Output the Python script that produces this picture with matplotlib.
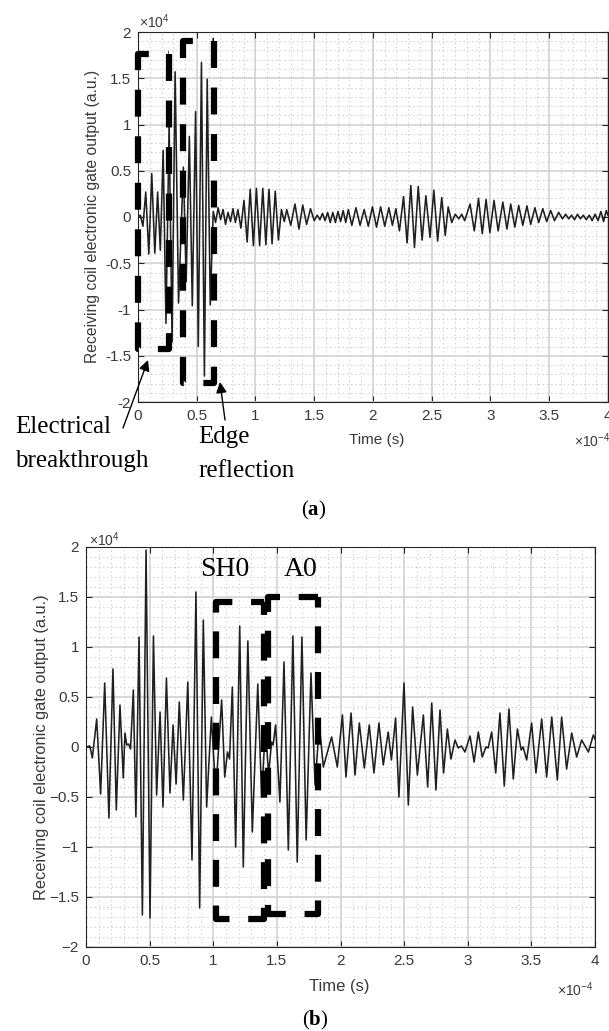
import matplotlib
matplotlib.use("Agg")
import matplotlib.pyplot as plt
from matplotlib.ticker import MultipleLocator, FuncFormatter

plt.rcParams['font.family'] = ['Liberation Sans', 'DejaVu Sans']
plt.rcParams['mathtext.fontset'] = 'custom'
plt.rcParams['mathtext.rm'] = 'Liberation Serif'
plt.rcParams['mathtext.bf'] = 'Liberation Serif:bold'
plt.rcParams['mathtext.sf'] = 'Liberation Sans'
plt.rcParams['lines.scale_dashes'] = False

# (a) extrema of the received signal, time in 1e-4 s, amplitude in 1e4 a.u.
time_a = [0.000, 0.020, 0.042, 0.066, 0.092, 0.117, 0.143, 0.167, 0.190, 0.214,
          0.238, 0.265, 0.290, 0.316, 0.345, 0.386, 0.410, 0.437, 0.462, 0.490,
          0.513, 0.540, 0.565, 0.589, 0.615, 0.640, 0.660, 0.682, 0.703, 0.724,
          0.745, 0.766, 0.787, 0.808, 0.829, 0.850, 0.876, 0.902, 0.929, 0.955,
          0.982, 1.008, 1.035, 1.062, 1.088, 1.115, 1.141, 1.168, 1.195, 1.221,
          1.245, 1.266, 1.300, 1.336, 1.370, 1.402, 1.435, 1.468, 1.500, 1.525,
          1.548, 1.570, 1.592, 1.614, 1.636, 1.658, 1.680, 1.702, 1.724, 1.746,
          1.768, 1.790, 1.820, 1.855, 1.890, 1.925, 1.960, 1.995, 2.030, 2.065,
          2.100, 2.135, 2.165, 2.195, 2.225, 2.260, 2.290, 2.322, 2.353, 2.385,
          2.418, 2.450, 2.485, 2.518, 2.550, 2.585, 2.615, 2.640, 2.670, 2.700,
          2.730, 2.755, 2.780, 2.826, 2.862, 2.898, 2.930, 2.962, 2.995, 3.030,
          3.065, 3.105, 3.140, 3.172, 3.207, 3.240, 3.275, 3.310, 3.342, 3.378,
          3.410, 3.445, 3.478, 3.512, 3.545, 3.580, 3.612, 3.640, 3.665, 3.690,
          3.715, 3.740, 3.765, 3.790, 3.815, 3.840, 3.865, 3.890, 3.915, 3.940,
          3.962, 3.985, 4.000]
amp_a = [0.00, 0.02, -0.10, 0.27, -0.40, 0.47, -0.39, 0.27, -0.36, 0.72,
         -1.15, 1.00, -1.35, 1.57, -0.93, 0.54, -0.70, 0.87, -0.96, 1.14,
         -1.40, 1.67, -1.72, 1.49, -0.95, 0.06, -0.06, 0.10, -0.03, 0.08,
         -0.08, 0.05, -0.05, 0.09, -0.06, 0.08, -0.12, 0.18, -0.27, 0.30,
         -0.31, 0.31, -0.31, 0.31, -0.30, 0.30, -0.29, 0.28, -0.25, 0.08,
         -0.05, 0.08, -0.09, 0.14, -0.13, 0.13, -0.08, 0.09, -0.04, 0.02,
         -0.03, 0.04, -0.04, 0.05, -0.06, 0.05, -0.06, 0.06, -0.05, 0.07,
         -0.06, 0.08, -0.09, 0.10, -0.09, 0.08, -0.10, 0.11, -0.11, 0.11,
         -0.10, 0.10, -0.09, 0.09, -0.15, 0.22, -0.28, 0.34, -0.33, 0.33,
         -0.25, 0.23, -0.22, 0.29, -0.26, 0.21, -0.20, 0.11, -0.06, 0.03,
         -0.02, 0.03, -0.04, 0.14, -0.15, 0.20, -0.18, 0.19, -0.17, 0.18,
         -0.15, 0.16, -0.13, 0.14, -0.11, 0.125, -0.09, 0.12, -0.08, 0.10,
         -0.06, 0.09, -0.05, 0.07, -0.04, 0.05, -0.02, 0.03, -0.02, 0.02,
         -0.03, 0.03, -0.02, 0.02, -0.03, 0.02, -0.04, 0.03, -0.04, 0.06,
         -0.05, 0.07, 0.02]

# (b) extrema of the received signal
time_b = [0.000, 0.030, 0.050, 0.084, 0.115, 0.147, 0.180, 0.212, 0.238, 0.267,
          0.293, 0.306, 0.320, 0.335, 0.350, 0.372, 0.392, 0.417, 0.443, 0.472,
          0.503, 0.530, 0.555, 0.582, 0.605, 0.632, 0.660, 0.684, 0.708, 0.733,
          0.765, 0.800, 0.833, 0.864, 0.893, 0.922, 0.948, 0.985, 1.020, 1.066,
          1.090, 1.112, 1.128, 1.150, 1.176, 1.208, 1.236, 1.272, 1.307, 1.350,
          1.380, 1.410, 1.435, 1.458, 1.470, 1.490, 1.524, 1.556, 1.590, 1.626,
          1.660, 1.697, 1.730, 1.768, 1.800, 1.834, 1.865, 1.930, 1.975, 2.015,
          2.043, 2.083, 2.114, 2.148, 2.187, 2.226, 2.263, 2.302, 2.336, 2.375,
          2.400, 2.433, 2.459, 2.499, 2.533, 2.567, 2.604, 2.651, 2.685, 2.717,
          2.750, 2.782, 2.810, 2.840, 2.868, 2.900, 2.925, 2.950, 2.978, 3.018,
          3.050, 3.083, 3.114, 3.143, 3.160, 3.188, 3.220, 3.253, 3.287, 3.324,
          3.358, 3.390, 3.420, 3.435, 3.463, 3.502, 3.536, 3.581, 3.620, 3.660,
          3.704, 3.738, 3.777, 3.817, 3.856, 3.895, 3.948, 3.987, 4.000]
amp_b = [0.00, 0.01, -0.11, 0.28, -0.47, 0.64, -0.71, 0.78, -0.63, 0.42,
         -0.31, 0.14, 0.02, 0.03, -0.02, 0.57, -0.70, 1.10, -1.68, 1.97,
         -1.71, 1.11, -0.48, 0.35, -0.60, 0.69, -0.46, 0.22, -0.37, 0.45,
         -0.53, 0.65, -1.13, 1.55, -1.61, 1.27, -0.60, 0.30, -0.45, 0.47,
         -0.30, -0.05, -0.12, 0.60, -1.00, 1.21, -1.20, 1.06, -0.85, 0.63,
         -0.50, 0.20, -0.28, 0.05, 0.02, 0.22, -0.55, 0.85, -1.03, 1.11,
         -1.15, 1.10, -0.93, 0.74, -0.38, 0.22, -0.20, 0.10, -0.20, 0.32,
         -0.30, 0.34, -0.28, 0.24, -0.21, 0.22, -0.26, 0.24, -0.18, 0.15,
         -0.13, 0.29, -0.50, 0.64, -0.58, 0.40, -0.28, 0.32, -0.40, 0.44,
         -0.43, 0.37, -0.26, 0.18, -0.12, 0.07, -0.01, 0.01, -0.05, 0.11,
         -0.15, 0.15, -0.10, 0.00, -0.01, 0.15, -0.26, 0.34, -0.39, 0.38,
         -0.32, 0.18, -0.03, 0.00, -0.13, 0.24, -0.26, 0.28, -0.30, 0.30,
         -0.33, 0.30, -0.22, 0.14, -0.10, 0.07, -0.05, 0.12, 0.08]

# dashed annotation boxes: (t_left, t_right, v_bottom, v_top)
boxes_a = [(-0.004, 0.265, -1.43, 1.76), (0.38, 0.65, -1.79, 1.90)]
boxes_b = [(1.018, 1.40, -1.72, 1.45), (1.43, 1.826, -1.67, 1.50)]

W, H = 609, 1031
fig = plt.figure(figsize=(W / 100, H / 100), dpi=100)


def fx(px):
    return px / W


def fy(py):
    return 1 - py / H


def style(ax, minus):
    ax.set_xlim(0, 4)
    ax.set_ylim(-2, 2)
    ax.xaxis.set_major_locator(MultipleLocator(0.5))
    ax.xaxis.set_minor_locator(MultipleLocator(0.1))
    ax.yaxis.set_major_locator(MultipleLocator(0.5))
    ax.yaxis.set_minor_locator(MultipleLocator(0.1))
    fmt = FuncFormatter(lambda v, p: ('%g' % (round(v, 6) + 0.0)).replace('-', minus))
    ax.xaxis.set_major_formatter(fmt)
    ax.yaxis.set_major_formatter(fmt)
    ax.grid(which='major', color='#d5d5d5', lw=1.3, ls='-')
    ax.grid(which='minor', color='#cccccc', lw=0.7, ls=(0, (1, 2)))
    ax.set_axisbelow(True)
    ax.tick_params(which='both', direction='in', top=True, right=True,
                   labelsize=11, color='#262626', labelcolor='#3a3a3a')
    ax.tick_params(which='major', length=4, width=0.8, pad=5)
    ax.tick_params(which='minor', length=0)
    for s in ax.spines.values():
        s.set_color('#262626')
        s.set_linewidth(0.8)


def draw_box(ax, box, offset, dashes):
    # path starts at the top-right corner and runs down, left, up, right
    t0, t1, v0, v1 = box
    ax.plot([t1, t1, t0, t0, t1], [v1, v0, v0, v1, v1], color='black', lw=4.5,
            linestyle=(offset, dashes), solid_capstyle='butt', zorder=5, clip_on=False)


# ---- panel (a)
ax1 = fig.add_axes([fx(138), fy(402), fx(608) - fx(138), fy(32) - fy(402)])
style(ax1, '-')
ax1.plot(time_a, amp_a, color='#202020', lw=1.15, zorder=3)
draw_box(ax1, boxes_a[0], 0, (19.4, 14.1))
draw_box(ax1, boxes_a[1], 0, (19.4, 14.1))

fig.text(fx(93), fy(216), 'Receiving coil electronic gate output (a.u.)', rotation=90,
         ha='center', va='center', fontsize=11.3, color='#3a3a3a')
fig.text(fx(377), fy(440), 'Time (s)', ha='center', va='center', fontsize=11, color='#3a3a3a')
fig.text(fx(139), fy(28), r'$\mathsf{\times10^{4}}$', ha='left', va='baseline', fontsize=10, color='#3a3a3a')
fig.text(fx(574), fy(447), r'$\mathsf{\times10^{-4}}$', ha='left', va='baseline', fontsize=10, color='#3a3a3a')

fig.text(fx(15), fy(427), 'Electrical', family='Liberation Serif', fontsize=18, va='center', ha='left')
fig.text(fx(15), fy(461), 'breakthrough', family='Liberation Serif', fontsize=18, va='center', ha='left')
fig.text(fx(198), fy(437), 'Edge', family='Liberation Serif', fontsize=18, va='center', ha='left')
fig.text(fx(198), fy(471), 'reflection', family='Liberation Serif', fontsize=18, va='center', ha='left')
arrow = dict(arrowstyle='-|>', mutation_scale=16, lw=1.0, color='black', shrinkA=0, shrinkB=0)
fig.add_artist(matplotlib.patches.FancyArrowPatch((fx(123), fy(428)), (fx(148), fy(360)),
                                                  transform=fig.transFigure, **arrow))
fig.add_artist(matplotlib.patches.FancyArrowPatch((fx(225), fy(420)), (fx(220), fy(382)),
                                                  transform=fig.transFigure, **arrow))
fig.text(fx(314), fy(510), r'($\mathbf{a}$)', family='Liberation Serif', fontsize=15, ha='center', va='center')

# ---- panel (b)
ax2 = fig.add_axes([fx(86), fy(947), fx(595) - fx(86), fy(547) - fy(947)])
style(ax2, '\u2212')
ax2.plot(time_b, amp_b, color='#202020', lw=1.15, zorder=3)
draw_box(ax2, boxes_b[0], 10.1, (19.4, 13.5))
draw_box(ax2, boxes_b[1], 11.8, (19.4, 13.5))

fig.text(fx(42), fy(747), 'Receiving coil electronic gate output (a.u.)', rotation=90,
         ha='center', va='center', fontsize=11.8, color='#3a3a3a')
fig.text(fx(339), fy(987), 'Time (s)', ha='center', va='center', fontsize=12, color='#3a3a3a')
fig.text(fx(89), fy(546), r'$\mathsf{\times10^{4}}$', ha='left', va='baseline', fontsize=10, color='#3a3a3a')
fig.text(fx(593), fy(996), r'$\mathsf{\times10^{-4}}$', ha='right', va='baseline', fontsize=10, color='#3a3a3a')
fig.text(fx(225), fy(570), 'SH0', family='Liberation Serif', fontsize=20, ha='center', va='center')
fig.text(fx(301), fy(570), 'A0', family='Liberation Serif', fontsize=20, ha='center', va='center')
fig.text(fx(315), fy(1020), r'($\mathbf{b}$)', family='Liberation Serif', fontsize=15, ha='center', va='center')

fig.savefig('out.png', dpi=100)
